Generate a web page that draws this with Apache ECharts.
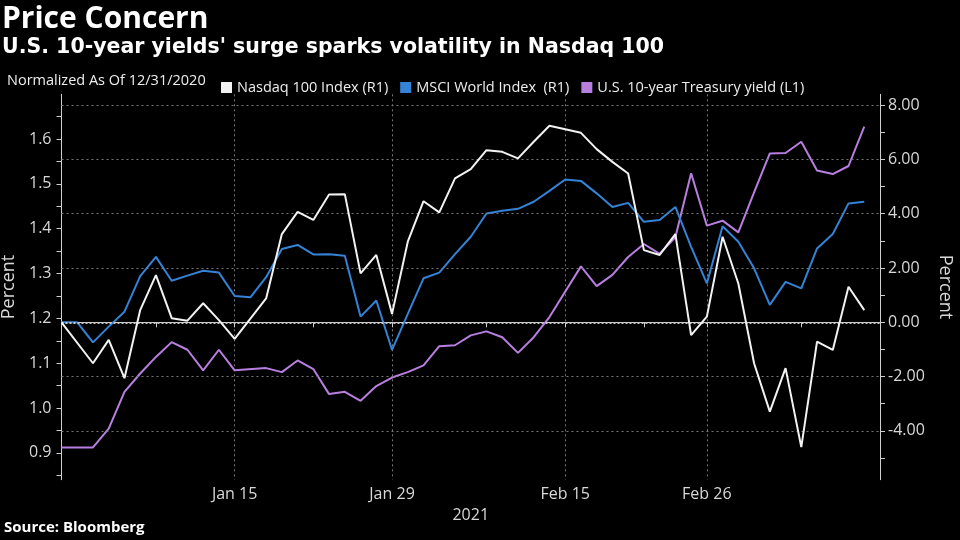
<!DOCTYPE html>
<html><head><meta charset="utf-8">
<script src="https://cdn.jsdelivr.net/npm/echarts@6/dist/echarts.min.js"></script>
<style>html,body{margin:0;background:#000}#c{width:960px;height:540px}</style>
</head><body><div id="c"></div>
<script>
// weekday categories Dec 31, 2020 – Mar 15, 2021
const dates = ['Dec 31','Jan 1','Jan 4','Jan 5','Jan 6','Jan 7','Jan 8','Jan 11','Jan 12','Jan 13','Jan 14','Jan 15',
  'Jan 18','Jan 19','Jan 20','Jan 21','Jan 22','Jan 25','Jan 26','Jan 27','Jan 28','Jan 29',
  'Feb 1','Feb 2','Feb 3','Feb 4','Feb 5','Feb 8','Feb 9','Feb 10','Feb 11','Feb 12',
  'Feb 15','Feb 16','Feb 17','Feb 18','Feb 19','Feb 22','Feb 23','Feb 24','Feb 25','Feb 26',
  'Mar 1','Mar 2','Mar 3','Mar 4','Mar 5','Mar 8','Mar 9','Mar 10','Mar 11','Mar 12','Mar 15'];
// Nasdaq 100, % change since 12/31/2020 (right axis)
const nasdaq = [0, null, -1.51, -0.65, -2.06, 0.45, 1.74, 0.15, 0.06, 0.70, 0.08, -0.61,
  null, 0.88, 3.25, 4.07, 3.77, 4.71, 4.72, 1.80, 2.48, 0.31,
  2.97, 4.46, 4.05, 5.30, 5.64, 6.34, 6.28, 6.04, 6.65, 7.24,
  null, 6.98, 6.38, 5.91, 5.48, 2.66, 2.48, 3.25, -0.47, 0.21,
  3.15, 1.43, -1.51, -3.29, -1.69, -4.60, -0.71, -1.02, 1.31, 0.45, null];
// MSCI World, % change since 12/31/2020 (right axis)
const msci = [0, 0, -0.74, -0.16, 0.39, 1.70, 2.41, 1.53, 1.72, 1.90, 1.83, 0.97,
  0.92, 1.66, 2.70, 2.85, 2.50, 2.51, 2.45, 0.21, 0.80, -1.02,
  0.31, 1.62, 1.83, 2.51, 3.15, 4.01, 4.11, 4.18, 4.44, 4.84,
  5.26, 5.21, 4.75, 4.25, 4.40, 3.70, 3.77, 4.25, 2.78, 1.43,
  3.54, 2.97, 1.99, 0.64, 1.49, 1.25, 2.72, 3.25, 4.38, 4.44, null];
// U.S. 10-year Treasury yield, percent (left axis)
const yield10 = [0.912, null, 0.912, 0.954, 1.036, 1.077, 1.114, 1.147, 1.130, 1.084, 1.130, 1.084,
  null, 1.089, 1.080, 1.106, 1.087, 1.031, 1.036, 1.016, 1.049, 1.068,
  1.080, 1.095, 1.138, 1.140, 1.162, 1.171, 1.158, 1.123, 1.158, 1.203,
  null, 1.316, 1.272, 1.297, 1.337, 1.366, 1.344, 1.381, 1.524, 1.407,
  1.418, 1.392, 1.481, 1.568, 1.569, 1.594, 1.530, 1.522, 1.540, 1.628, null];

const leftLabels = [0.9, 1.0, 1.1, 1.2, 1.3, 1.4, 1.5, 1.6];
const leftTicks = [0.85, 0.9, 0.95, 1.0, 1.05, 1.1, 1.15, 1.2, 1.25, 1.3, 1.35, 1.4, 1.45, 1.5, 1.55, 1.6, 1.65];
const rightLabels = [-4, -2, 0, 2, 4, 6, 8];
const rightTicks = [-5, -4, -3, -2, -1, 0, 1, 2, 3, 4, 5, 6, 7, 8];
const gridValues = [-4, -2, 2, 4, 6, 8];
const labeledDates = ['Jan 15', 'Jan 29', 'Feb 15', 'Feb 26'];
const tickDates = ['Dec 31', 'Jan 8', 'Jan 15', 'Jan 22', 'Jan 29', 'Feb 8', 'Feb 15', 'Feb 22', 'Feb 26', 'Mar 8', 'Mar 15'];

const FONT = '"Open Sans", "DejaVu Sans", sans-serif';
const WIDE = '"DejaVu Sans", sans-serif';
const LBL = '#d8d8d8';
const chart = echarts.init(document.getElementById('c'), null, {renderer: 'canvas'});
chart.setOption({
  backgroundColor: '#000',
  animation: false,
  textStyle: {fontFamily: FONT},
  graphic: [
    {type: 'text', left: 2, top: 4, style: {text: 'Price Concern', fill: '#fff', font: 'bold 30px ' + FONT}},
    {type: 'text', left: 2, top: 37, style: {text: "U.S. 10-year yields' surge sparks volatility in Nasdaq 100", fill: '#fff', font: 'bold 20.5px ' + WIDE}},
    {type: 'text', left: 7, top: 73, style: {text: 'Normalized As Of 12/31/2020', fill: '#eee', font: '14.5px ' + FONT}},
    {type: 'text', left: 4, top: 520, style: {text: 'Source: Bloomberg', fill: '#fff', font: 'bold 15px ' + FONT}}
  ],
  legend: {
    left: 216, top: 75, icon: 'rect', itemWidth: 11, itemHeight: 11, itemGap: 12,
    textStyle: {color: '#eee', fontSize: 14.5, fontFamily: FONT},
    data: ['Nasdaq 100 Index (R1)', 'MSCI World Index  (R1)', 'U.S. 10-year Treasury yield (L1)']
  },
  grid: {left: 61.5, right: 80, top: 94.3, bottom: 60.3, containLabel: false, outerBoundsMode: 'none'},
  xAxis: {
    type: 'category', data: dates, boundaryGap: false,
    axisLine: {lineStyle: {color: '#cfcfcf', width: 1}},
    axisTick: {show: true, length: 5, interval: (i, v) => tickDates.includes(v), lineStyle: {color: '#cfcfcf'}},
    axisLabel: {interval: (i, v) => labeledDates.includes(v), color: LBL, fontSize: 16, margin: 7, fontFamily: FONT},
    splitLine: {show: true, interval: (i, v) => labeledDates.includes(v), lineStyle: {color: '#777', type: [2, 3], width: 1}},
    name: '2021', nameLocation: 'middle', nameGap: 23,
    nameTextStyle: {color: LBL, fontSize: 16, fontFamily: FONT}
  },
  yAxis: [
    {
      type: 'value', position: 'left', min: 0.84, max: 1.70,
      axisLine: {show: true, lineStyle: {color: '#cfcfcf'}},
      axisTick: {show: true, length: 5, customValues: leftTicks, lineStyle: {color: '#cfcfcf'}},
      axisLabel: {customValues: leftLabels, formatter: v => v.toFixed(1), color: LBL, fontSize: 16, margin: 10, fontFamily: FONT},
      splitLine: {show: false},
      name: 'Percent', nameLocation: 'middle', nameGap: 37, nameRotate: 90,
      nameTextStyle: {color: LBL, fontSize: 18, fontFamily: FONT}
    },
    {
      type: 'value', position: 'right', min: -5.8, max: 8.4,
      axisLine: {show: true, lineStyle: {color: '#cfcfcf'}},
      axisTick: {show: true, length: 5, customValues: rightTicks, lineStyle: {color: '#cfcfcf'}},
      axisLabel: {customValues: rightLabels, formatter: v => v.toFixed(2), color: LBL, fontSize: 16, margin: 8, fontFamily: FONT},
      splitLine: {show: false},
      name: 'Percent', nameLocation: 'middle', nameGap: 56, nameRotate: -90,
      nameTextStyle: {color: LBL, fontSize: 18, fontFamily: FONT}
    }
  ],
  series: [
    {
      name: 'gridlines', type: 'line', yAxisIndex: 1, data: [], silent: true, z: 1,
      markLine: {
        silent: true, symbol: 'none', label: {show: false}, animation: false,
        data: gridValues.map(v => ({yAxis: v, lineStyle: {color: '#777', type: [2, 3], width: 1}}))
          .concat([{yAxis: 0, lineStyle: {color: '#c8c8c8', type: [2, 2], width: 2}}])
      }
    },
    {name: 'U.S. 10-year Treasury yield (L1)', type: 'line', yAxisIndex: 0, data: yield10, connectNulls: true,
      showSymbol: false, color: '#b87fe0', lineStyle: {width: 2}, z: 3},
    {name: 'MSCI World Index  (R1)', type: 'line', yAxisIndex: 1, data: msci, connectNulls: true,
      showSymbol: false, color: '#3483d6', lineStyle: {width: 2}, z: 4},
    {name: 'Nasdaq 100 Index (R1)', type: 'line', yAxisIndex: 1, data: nasdaq, connectNulls: true,
      showSymbol: false, color: '#f2f2f2', lineStyle: {width: 2}, z: 5}
  ]
});
</script></body></html>
